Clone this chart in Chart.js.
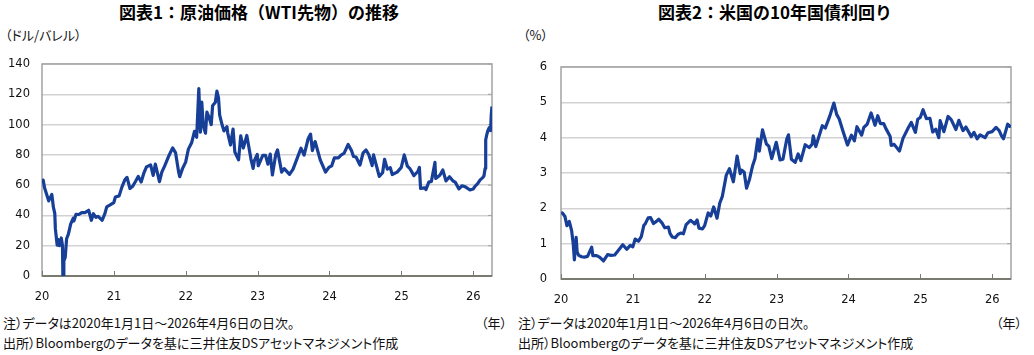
<!DOCTYPE html>
<html><head><meta charset="utf-8">
<script src="https://cdn.jsdelivr.net/npm/chart.js@4/dist/chart.umd.min.js"></script>
<style>
body{margin:0;background:#fff;width:1034px;height:355px;position:relative;overflow:hidden;font-family:"Noto Sans CJK JP",sans-serif;color:#111}
.t{position:absolute;white-space:nowrap;font-feature-settings:"palt"}
.title{font-weight:bold;font-size:17px;line-height:20px;top:2px;transform:translateX(-50%);color:#000;font-feature-settings:normal}
.unit{font-size:13px;line-height:16px;top:27px}
.note{font-size:13px;line-height:18px}
canvas{position:absolute;top:0}
</style></head><body>
<div class="t title" style="left:259px">図表1：原油価格（WTI先物）の推移</div>
<div class="t title" style="left:775px">図表2：米国の10年国債利回り</div>
<div class="t unit" style="left:5px">（ドル/バレル）</div>
<div class="t unit" style="left:523px">（%）</div>
<canvas id="c1" width="517" height="310" style="left:0"></canvas>
<canvas id="c2" width="517" height="310" style="left:517px"></canvas>
<div class="t note" style="left:3px;top:314px">注）データは2020年1月1日～2026年4月6日の日次。</div>
<div class="t note" style="left:3px;top:334px">出所）Bloombergのデータを基に三井住友DSアセットマネジメント作成</div>
<div class="t note" style="right:527px;top:314px">（年）</div>
<div class="t note" style="left:518px;top:314px">注）データは2020年1月1日～2026年4月6日の日次。</div>
<div class="t note" style="left:518px;top:334px">出所）Bloombergのデータを基に三井住友DSアセットマネジメント作成</div>
<div class="t note" style="right:12px;top:314px">（年）</div>
<script>
const startDate = '2020-01-01';
const endDate = '2026-04-06';
const yearStarts = ['2020-01-01','2021-01-01','2022-01-01','2023-01-01','2024-01-01','2025-01-01','2026-01-01'];
const yearLabels = ['20','21','22','23','24','25','26'];

const oilDates = ['2020-01-02','2020-01-07','2020-01-14','2020-01-24','2020-02-04','2020-02-20','2020-02-28','2020-03-06','2020-03-09','2020-03-18','2020-03-24','2020-03-30','2020-04-08','2020-04-14','2020-04-20','2020-04-21','2020-04-28','2020-05-05','2020-05-14','2020-05-26','2020-06-08','2020-06-11','2020-06-22','2020-07-06','2020-07-21','2020-08-06','2020-08-25','2020-09-08','2020-09-18','2020-10-01','2020-10-12','2020-10-28','2020-11-02','2020-11-16','2020-11-25','2020-12-10','2020-12-31',
'2021-01-08','2021-01-27','2021-02-10','2021-02-25','2021-03-08','2021-03-23','2021-04-06','2021-04-20','2021-05-04','2021-05-19','2021-06-01','2021-06-15','2021-07-06','2021-07-19','2021-07-30','2021-08-20','2021-09-01','2021-09-15','2021-10-05','2021-10-26','2021-11-10','2021-11-26','2021-12-01','2021-12-15','2021-12-31',
'2022-01-14','2022-01-31','2022-02-14','2022-02-25','2022-03-08','2022-03-16','2022-03-23','2022-03-30','2022-04-06','2022-04-11','2022-04-18','2022-04-29','2022-05-10','2022-05-17','2022-05-31','2022-06-08','2022-06-16','2022-06-22','2022-07-05','2022-07-14','2022-07-29','2022-08-02','2022-08-16','2022-08-29','2022-09-07','2022-09-26','2022-10-07','2022-10-20','2022-11-07','2022-11-15','2022-11-28','2022-12-09','2022-12-15','2022-12-30',
'2023-01-04','2023-01-27','2023-02-10','2023-02-22','2023-03-06','2023-03-17','2023-04-03','2023-04-12','2023-05-03','2023-05-16','2023-06-12','2023-06-30','2023-07-14','2023-08-09','2023-08-25','2023-09-15','2023-09-27','2023-10-06','2023-10-20','2023-11-15','2023-12-12','2023-12-29',
'2024-01-12','2024-01-26','2024-02-15','2024-03-01','2024-03-15','2024-04-05','2024-04-22','2024-05-02','2024-05-15','2024-06-04','2024-06-20','2024-07-05','2024-07-19','2024-08-05','2024-08-12','2024-09-10','2024-09-27','2024-10-07','2024-10-21','2024-11-05','2024-11-15','2024-12-10','2024-12-31',
'2025-01-15','2025-01-31','2025-02-14','2025-03-05','2025-03-25','2025-04-02','2025-04-08','2025-04-30','2025-05-05','2025-05-20','2025-06-02','2025-06-20','2025-06-24','2025-07-15','2025-07-30','2025-08-15','2025-09-02','2025-09-20','2025-10-01','2025-10-20','2025-11-05','2025-11-20','2025-12-15','2025-12-31',
'2026-01-09','2026-01-23','2026-02-05','2026-02-18','2026-02-24','2026-03-02','2026-03-05','2026-03-10','2026-03-16','2026-03-23','2026-03-30','2026-04-02','2026-04-06'];
const oilValues = [61.2,63.3,58.2,54.2,49.6,53.8,45.3,41.3,31.1,20.4,24.0,20.1,25.1,20.1,-37.6,10.0,12.3,24.6,27.6,34.4,38.2,36.3,40.7,40.6,41.9,41.9,43.4,36.8,41.1,38.7,39.4,37.4,36.8,41.3,45.7,46.8,48.5,
52.2,52.9,58.7,63.5,65.1,57.8,59.3,62.4,65.7,62.1,67.7,72.1,73.4,66.4,73.9,62.3,68.6,72.6,78.9,84.6,81.3,68.2,65.6,70.9,75.2,
83.8,88.2,95.5,91.6,123.7,95.0,114.9,100.3,96.2,94.3,108.2,104.7,100.0,112.4,114.7,122.1,117.6,106.2,99.5,95.8,98.6,94.4,86.5,97.0,81.9,76.7,92.6,84.5,92.8,86.9,77.2,71.0,76.1,80.3,
72.8,79.7,79.7,73.9,80.5,66.7,80.4,83.3,68.6,70.9,67.1,70.6,75.4,84.4,79.8,90.8,93.7,82.8,88.8,76.7,68.6,71.7,
72.7,78.0,78.0,80.0,81.0,86.9,82.8,78.9,78.6,73.3,81.3,83.2,80.1,72.9,80.0,65.8,68.2,77.1,70.6,71.5,67.0,68.6,71.7,
80.0,72.5,70.7,66.3,69.0,71.7,57.9,58.2,57.1,62.0,62.5,75.0,64.4,66.5,70.0,62.8,65.6,62.7,62.0,57.5,59.6,59.0,56.8,57.4,
59.1,61.0,63.5,65.0,66.0,71.0,90.0,93.0,96.0,98.0,96.0,106.0,112.0];

const yieldDates = ['2020-01-02','2020-01-08','2020-01-21','2020-01-31','2020-02-12','2020-02-24','2020-03-03','2020-03-09','2020-03-18','2020-03-23','2020-03-31','2020-04-15','2020-04-29','2020-05-15','2020-06-05','2020-06-11','2020-06-30','2020-07-15','2020-08-04','2020-08-25','2020-09-11','2020-09-30','2020-10-23','2020-11-10','2020-11-30','2020-12-18','2020-12-31',
'2021-01-12','2021-01-29','2021-02-12','2021-02-25','2021-03-04','2021-03-19','2021-03-31','2021-04-15','2021-04-30','2021-05-12','2021-05-28','2021-06-11','2021-06-30','2021-07-08','2021-07-19','2021-08-04','2021-08-17','2021-08-31','2021-09-14','2021-09-28','2021-10-20','2021-11-03','2021-11-10','2021-11-23','2021-12-02','2021-12-20','2021-12-31',
'2022-01-18','2022-01-31','2022-02-15','2022-03-04','2022-03-18','2022-03-31','2022-04-20','2022-05-06','2022-05-26','2022-06-14','2022-06-30','2022-07-08','2022-07-20','2022-08-01','2022-08-15','2022-08-31','2022-09-13','2022-09-27','2022-10-05','2022-10-21','2022-11-10','2022-11-22','2022-12-07','2022-12-30',
'2023-01-18','2023-02-02','2023-02-21','2023-03-02','2023-03-17','2023-04-05','2023-04-20','2023-05-04','2023-05-26','2023-06-15','2023-06-30','2023-07-06','2023-07-19','2023-08-21','2023-09-05','2023-09-28','2023-10-19','2023-11-02','2023-11-15','2023-12-05','2023-12-27',
'2024-01-16','2024-01-31','2024-02-13','2024-03-08','2024-03-19','2024-04-05','2024-04-25','2024-05-15','2024-05-29','2024-06-11','2024-06-28','2024-07-08','2024-07-31','2024-08-05','2024-08-20','2024-09-16','2024-10-04','2024-10-31','2024-11-15','2024-12-06','2024-12-18','2024-12-31',
'2025-01-14','2025-01-31','2025-02-18','2025-03-04','2025-03-20','2025-04-04','2025-04-11','2025-04-30','2025-05-21','2025-06-06','2025-06-30','2025-07-15','2025-08-05','2025-08-20','2025-09-16','2025-09-30','2025-10-16','2025-10-31','2025-11-25','2025-12-10','2025-12-31',
'2026-01-20','2026-02-05','2026-02-17','2026-02-27','2026-03-12','2026-03-20','2026-03-31','2026-04-06'];
const yieldValues = [1.88,1.87,1.77,1.51,1.63,1.37,1.00,0.54,1.18,0.76,0.67,0.63,0.62,0.64,0.90,0.66,0.66,0.62,0.51,0.69,0.67,0.68,0.84,0.97,0.84,0.95,0.91,
1.13,1.07,1.20,1.52,1.56,1.73,1.74,1.57,1.63,1.69,1.59,1.45,1.47,1.29,1.19,1.17,1.26,1.30,1.28,1.54,1.66,1.60,1.56,1.67,1.44,1.42,1.51,
1.87,1.78,2.04,1.72,2.15,2.34,2.94,3.12,2.75,3.48,2.98,3.08,3.02,2.57,2.80,3.19,3.41,3.96,3.62,4.22,3.82,3.76,3.41,3.87,
3.37,3.39,3.95,4.08,3.39,3.30,3.54,3.35,3.80,3.72,3.81,4.05,3.75,4.34,4.27,4.61,4.98,4.66,4.53,4.17,3.79,
4.07,3.91,4.31,4.07,4.29,4.38,4.70,4.35,4.62,4.40,4.40,4.27,4.03,3.78,3.81,3.62,3.98,4.28,4.43,4.15,4.52,4.57,
4.79,4.54,4.55,4.16,4.24,4.00,4.48,4.17,4.60,4.51,4.23,4.49,4.20,4.30,4.03,4.15,3.97,4.08,4.00,4.14,4.17,
4.29,4.20,4.05,3.97,4.22,4.38,4.32,4.35];

function dayIndex(s){const p=s.split('-').map(Number);const b=startDate.split('-').map(Number);
  return (Date.UTC(p[0],p[1]-1,p[2])-Date.UTC(b[0],b[1]-1,b[2]))/86400000;}

const LINE = '#173f98';
const framePlugin = {
  id:'frame',
  beforeDatasetsDraw(chart){
    const a=chart.chartArea, ctx=chart.ctx, ys=chart.scales.y, xs=chart.scales.x;
    ctx.save();
    ctx.strokeStyle='#a3a3a3'; ctx.lineWidth=1.5;
    ctx.strokeRect(a.left,a.top,a.right-a.left,a.bottom-a.top);
    ctx.lineWidth=1;
    ys.ticks.forEach(t=>{const y=ys.getPixelForValue(t.value);ctx.beginPath();ctx.moveTo(a.right-4,y);ctx.lineTo(a.right,y);ctx.stroke();});
    ctx.strokeStyle='#7a7a70'; ctx.lineWidth=2;
    ctx.beginPath();ctx.moveTo(a.left,a.bottom);ctx.lineTo(a.right,a.bottom);ctx.stroke();
    ctx.lineWidth=1;
    xs.ticks.forEach(t=>{const x=Math.round(xs.getPixelForValue(t.value))+0.5;ctx.beginPath();ctx.moveTo(x,a.bottom);ctx.lineTo(x,a.bottom-5);ctx.stroke();});
    ctx.restore();
  }
};

function makeChart(id, dates, values, yMax, yStep, yW, xH, pad, yPad){
  const pts = dates.map((d,i)=>({x:dayIndex(d), y:values[i]}));
  return new Chart(document.getElementById(id), {
    type:'line',
    data:{datasets:[{data:pts, borderColor:LINE, borderWidth:3.2, pointRadius:0, tension:0, fill:false, borderJoinStyle:'round'}]},
    options:{
      responsive:false, animation:false, events:[],
      layout:{padding:pad},
      plugins:{legend:{display:false}, tooltip:{enabled:false}},
      scales:{
        x:{type:'linear', min:0, max:dayIndex(endDate),
          afterBuildTicks(s){s.ticks = yearStarts.map(d=>({value:dayIndex(d)}));},
          afterFit(s){s.height=xH;},
          grid:{display:false, drawTicks:false}, border:{display:false},
          ticks:{padding:14, maxRotation:0, autoSkip:false, color:'#111', font:{family:'DejaVu Sans', size:11.5},
            callback:(v,i)=>yearLabels[i]}},
        y:{min:0, max:yMax,
          afterBuildTicks(s){const t=[];for(let v=0;v<=yMax+1e-9;v+=yStep)t.push({value:v});s.ticks=t;},
          afterFit(s){s.width=yW;},
          grid:{color:'#d2d2d2', lineWidth:1.5, drawTicks:false}, border:{display:false},
          ticks:{padding:yPad, color:'#111', font:{family:'DejaVu Sans', size:11.5}}}
      }
    },
    plugins:[framePlugin]
  });
}
makeChart('c1', oilDates, oilValues, 140, 20, 42, 34, {top:64, right:25, left:0, bottom:0}, 12);
makeChart('c2', yieldDates, yieldValues, 6, 1, 44, 31, {top:67, right:23, left:0, bottom:0}, 14);
</script>
</body></html>
